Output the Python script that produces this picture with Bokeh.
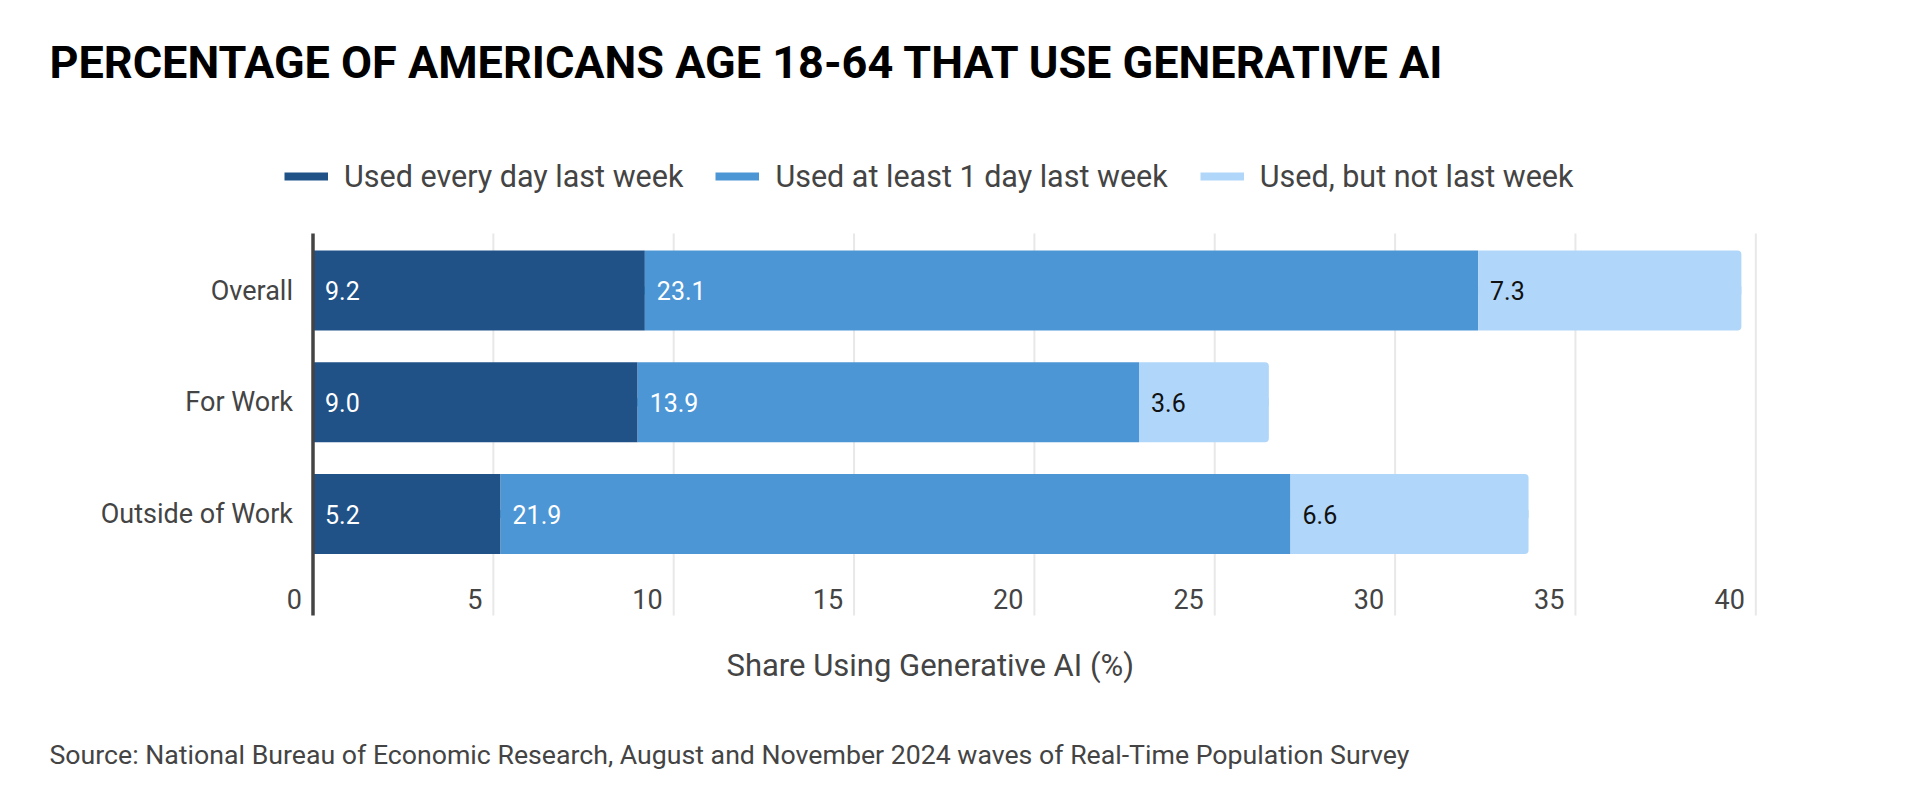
from bokeh.plotting import figure
from bokeh.models import (ColumnDataSource, Range1d, Legend, LegendItem, Title, HBar)
from bokeh.core.properties import value
from bokeh.embed import file_html
from bokeh.resources import INLINE

# ---------------- data ----------------
title_text = "PERCENTAGE OF AMERICANS AGE 18-64 THAT USE GENERATIVE AI"
categories = ["Overall", "For Work", "Outside of Work"]
series_names = ["Used every day last week",
                "Used at least 1 day last week",
                "Used, but not last week"]
every_day = [9.2, 9.0, 5.2]
at_least_one_day = [23.1, 13.9, 21.9]
not_last_week = [7.3, 3.6, 6.6]
x_ticks = [0, 5, 10, 15, 20, 25, 30, 35, 40]
x_axis_title = "Share Using Generative AI (%)"
source_text = ("Source: National Bureau of Economic Research, August and November 2024 "
               "waves of Real-Time Population Survey")

# ---------------- styles / layout ----------------
colors = ["#205288", "#4C96D6", "#B0D7FA"]
label_colors = ["#ffffff", "#ffffff", "#111111"]
FONT = "Roboto"
TEXT_GRAY = "#444444"

W, H = 1906, 788
FRAME_L, FRAME_R = 30, 1765          # frame edges (px)
FRAME_T, FRAME_B = 145, 630
AXIS_PX = 312.5                      # px of value 0
PX_PER_UNIT = 36.07
ROW_PX = 111.75                      # px between category rows
TOP_ROW_PX = 290                     # px centre of first row
GRID_TOP_PX, GRID_BOT_PX = 233, 615
TICK_LABEL_PX = 598

series_values = [every_day, at_least_one_day, not_last_week]
n = len(categories)
y_pos = [n - 1 - i for i in range(n)]

x_start = -(AXIS_PX - FRAME_L) / PX_PER_UNIT
x_end = (FRAME_R - AXIS_PX) / PX_PER_UNIT
y_top_row = y_pos[0]
bottom_row_px = TOP_ROW_PX + (n - 1) * ROW_PX
y_end = y_top_row + (TOP_ROW_PX - FRAME_T) / ROW_PX
y_start = y_pos[-1] - (FRAME_B - bottom_row_px) / ROW_PX
grid_top = y_top_row + (TOP_ROW_PX - GRID_TOP_PX) / ROW_PX
grid_bot = y_pos[-1] - (GRID_BOT_PX - bottom_row_px) / ROW_PX
tick_label_y = y_pos[-1] - (TICK_LABEL_PX - bottom_row_px) / ROW_PX

p = figure(width=W, height=H, output_backend="svg", toolbar_location=None,
           x_range=Range1d(x_start, x_end), y_range=Range1d(y_start, y_end),
           x_axis_location=None, y_axis_location=None,
           min_border_left=FRAME_L, min_border_right=W - FRAME_R,
           min_border_top=FRAME_T, min_border_bottom=H - FRAME_B, title=None)
p.outline_line_color = None
p.background_fill_color = "white"
p.border_fill_color = "white"
p.xgrid.visible = False
p.ygrid.visible = False

# vertical grid lines
grid_x = x_ticks[1:]
p.segment(x0=grid_x, x1=grid_x, y0=[grid_bot] * len(grid_x), y1=[grid_top] * len(grid_x),
          line_color="#e8e8e8", line_width=2)

has_radius = "border_radius" in HBar.properties()

legend_items = []
left = [0.0] * n
for k, (name, vals) in enumerate(zip(series_names, series_values)):
    right = [l + v for l, v in zip(left, vals)]
    src = ColumnDataSource(dict(y=y_pos, left=left, right=right,
                                label=[f"{v:.1f}" for v in vals]))
    seg = p.segment(x0="left", x1="right", y0="y", y1="y", source=src,
                    line_width=8, line_color=colors[k], line_cap="butt")
    kw = {}
    if has_radius and k == len(series_values) - 1:
        kw["border_radius"] = (0, 4, 4, 0)
    p.hbar(y="y", left="left", right="right", height=0.716, source=src,
           fill_color=colors[k], line_color=None, **kw)
    p.text(x="left", y="y", text="label", source=src, x_offset=12,
           text_align="left", text_baseline="middle",
           text_font=value(FONT), text_font_size=value("25px"),
           text_color=label_colors[k])
    legend_items.append(LegendItem(label=name, renderers=[seg]))
    left = right

# value axis line
p.segment(x0=[x_ticks[0]], x1=[x_ticks[0]], y0=[grid_bot], y1=[grid_top],
          line_color="#444444", line_width=3.5)

# category labels
p.text(x=[x_ticks[0]] * n, y=y_pos, text=categories, x_offset=-20,
       text_align="right", text_baseline="middle",
       text_font=value(FONT), text_font_size=value("27px"), text_color=TEXT_GRAY)

# x tick labels (right-aligned just left of each grid line)
p.text(x=x_ticks, y=[tick_label_y] * len(x_ticks), text=[str(t) for t in x_ticks],
       x_offset=-11, text_align="right", text_baseline="middle",
       text_font=value(FONT), text_font_size=value("27px"), text_color=TEXT_GRAY)

legend = Legend(items=legend_items, orientation="horizontal",
                location=(284 - FRAME_L, FRAME_B - 158 - 36),
                margin=0, padding=0, spacing=32, glyph_width=44, glyph_height=36,
                label_height=36, label_standoff=16, label_text_font=FONT,
                label_text_font_size="30.5px", label_text_color=TEXT_GRAY,
                border_line_color=None, background_fill_alpha=0)
p.add_layout(legend, "center")

# above: spacer (next to frame), then title
p.add_layout(Title(text=" ", text_font_size="1px", standoff=17,
                   text_font_style="normal"), "above")
p.add_layout(Title(text=title_text, align="left", offset=49 - FRAME_L, standoff=70,
                   vertical_align="top", text_font=FONT, text_font_size="45px",
                   text_font_style="bold", text_color="#000000"), "above")

# below: axis title, spacer, source
p.add_layout(Title(text=x_axis_title, align="left", offset=726 - FRAME_L, standoff=32,
                   vertical_align="top", text_font=FONT, text_font_size="31px",
                   text_font_style="normal", text_color=TEXT_GRAY), "below")
p.add_layout(Title(text=" ", text_font_size="1px", standoff=34,
                   text_font_style="normal"), "below")
p.add_layout(Title(text=source_text, align="left", offset=49 - FRAME_L, standoff=0,
                   vertical_align="top", text_font=FONT, text_font_size="26.7px",
                   text_font_style="normal", text_color=TEXT_GRAY), "below")

open("out.html", "w").write(file_html(p, INLINE))
